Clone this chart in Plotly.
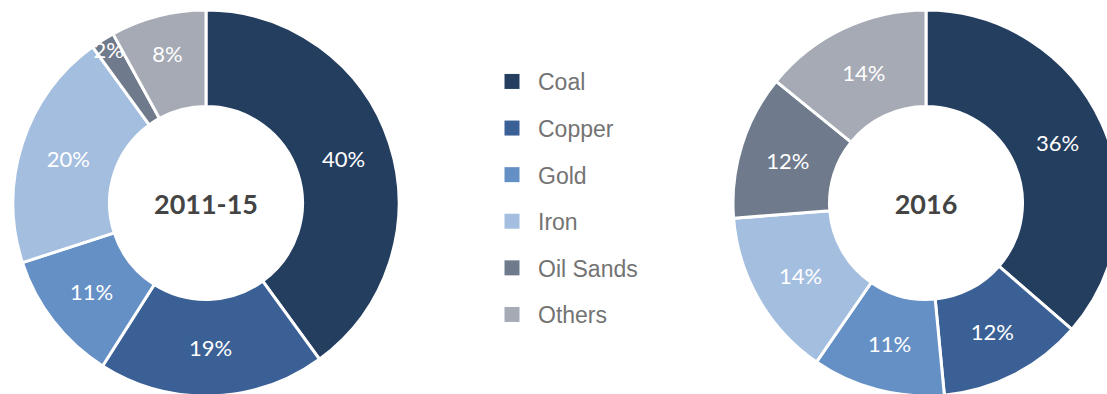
import plotly.graph_objects as go

# ---- data ----
categories = ["Coal", "Copper", "Gold", "Iron", "Oil Sands", "Others"]
share_2011_15 = [40, 19, 11, 20, 2, 8]
share_2016 = [36, 12, 11, 14, 12, 14]
period_labels = ["2011-15", "2016"]
colors = ["#243E60", "#3B6096", "#6590C5", "#A4BEE0", "#6F7A8C", "#A5AAB5"]

W, H = 1120, 400


def px_domain(x0, x1, y0, y1):
    return dict(x=[x0 / W, x1 / W], y=[1 - y1 / H, 1 - y0 / H])


domains = [px_domain(12, 400, 10, 396), px_domain(733, 1119, 10, 396)]

fig = go.Figure()

for values, label, dom in zip([share_2011_15, share_2016], period_labels, domains):
    fig.add_trace(go.Pie(
        labels=categories,
        values=values,
        hole=0.5,
        sort=False,
        direction="clockwise",
        rotation=0,
        marker=dict(colors=colors, line=dict(color="white", width=3)),
        texttemplate="%{value}%",
        textposition="inside",
        insidetextorientation="horizontal",
        textfont=dict(family="Lato", size=22, color="white"),
        title=dict(text=label, position="middle center",
                   font=dict(family="Lato", size=27, color="#444444", weight="bold")),
        showlegend=False,
        domain=dom,
        hoverinfo="label+value",
    ))

# legend entries
for name, color in zip(categories, colors):
    fig.add_trace(go.Scatter(
        x=[None], y=[None], mode="markers", name=name, legendgroup=name,
        marker=dict(symbol="square", size=15, color=color),
        showlegend=True, hoverinfo="skip",
    ))

fig.update_layout(
    width=W, height=H,
    margin=dict(l=0, r=0, t=0, b=0),
    paper_bgcolor="white", plot_bgcolor="white",
    xaxis=dict(visible=False), yaxis=dict(visible=False),
    showlegend=True,
    uniformtext=dict(minsize=22, mode="show"),
    legend=dict(
        x=486 / W, y=1 - 60 / H, xanchor="left", yanchor="top",
        font=dict(family="Liberation Sans", size=23, color="#737373"),
        itemwidth=42, tracegroupgap=13.7, bgcolor="rgba(0,0,0,0)",
    ),
)

fig.write_html("out.html")
